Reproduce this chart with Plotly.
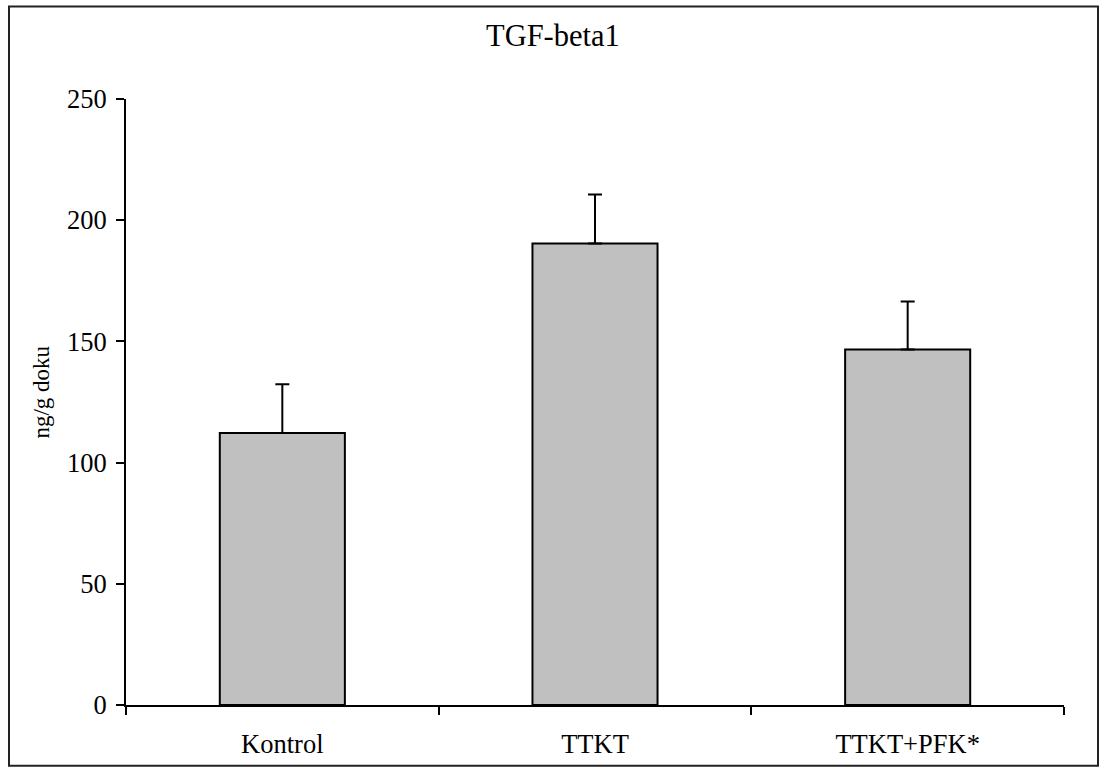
import plotly.graph_objects as go

categories = ["Kontrol", "TTKT", "TTKT+PFK*"]
values = [112.2, 190.4, 146.7]
errors = [20.1, 20.2, 19.8]
y_ticks = [0, 50, 100, 150, 200, 250]

W, H = 1106, 771
L, R, T, B = 126, 42, 99, 63
pw, ph = W - L - R, H - T - B

def px_to_paper_x(px):
    return (px - L) / pw

def px_to_paper_y(py):
    return (H - B - py) / ph

FONT = "Liberation Serif, Times New Roman, serif"

fig = go.Figure()
fig.add_trace(go.Bar(
    x=categories, y=values,
    marker=dict(color="#C0C0C0", line=dict(color="black", width=2)),
    width=0.4,
    error_y=dict(type="data", array=errors, arrayminus=[0, 0, 0], symmetric=False,
                 color="black", thickness=2, width=7),
    showlegend=False,
))

fig.update_layout(
    width=W, height=H,
    margin=dict(l=L, r=R, t=T, b=B),
    paper_bgcolor="white", plot_bgcolor="white",
    font=dict(family=FONT, color="black", size=26),
    xaxis=dict(
        type="category", tickson="boundaries", ticks="outside", ticklen=8, tickwidth=2,
        tickcolor="black", showline=True, linecolor="black", linewidth=2,
        showgrid=False, tickfont=dict(size=26.5), range=[-0.5, 2.5],
        ticklabelstandoff=14,
    ),
    yaxis=dict(
        range=[0, 250], tickvals=y_ticks, ticks="outside", ticklen=8, tickwidth=2,
        tickcolor="black", showline=True, linecolor="black", linewidth=2,
        showgrid=False, zeroline=False, tickfont=dict(size=26.5),
        ticklabelstandoff=4,
    ),
    shapes=[dict(
        type="rect", xref="paper", yref="paper",
        x0=px_to_paper_x(9), x1=px_to_paper_x(1098),
        y0=px_to_paper_y(769), y1=px_to_paper_y(6),
        line=dict(color="#222222", width=2), fillcolor="rgba(0,0,0,0)", layer="below",
    )],
    annotations=[
        dict(text="TGF-beta1", xref="paper", yref="paper",
             x=px_to_paper_x(553), y=px_to_paper_y(36), xanchor="center", yanchor="middle",
             showarrow=False, font=dict(size=30.5)),
        dict(text="ng/g doku", xref="paper", yref="paper",
             x=px_to_paper_x(42), y=px_to_paper_y(394), xanchor="center", yanchor="middle",
             showarrow=False, textangle=-90, font=dict(size=23)),
    ],
)

fig.write_html(
    "out.html",
    config={"displayModeBar": False},
    post_script="document.body.style.margin='0';document.body.style.overflow='hidden';",
)
